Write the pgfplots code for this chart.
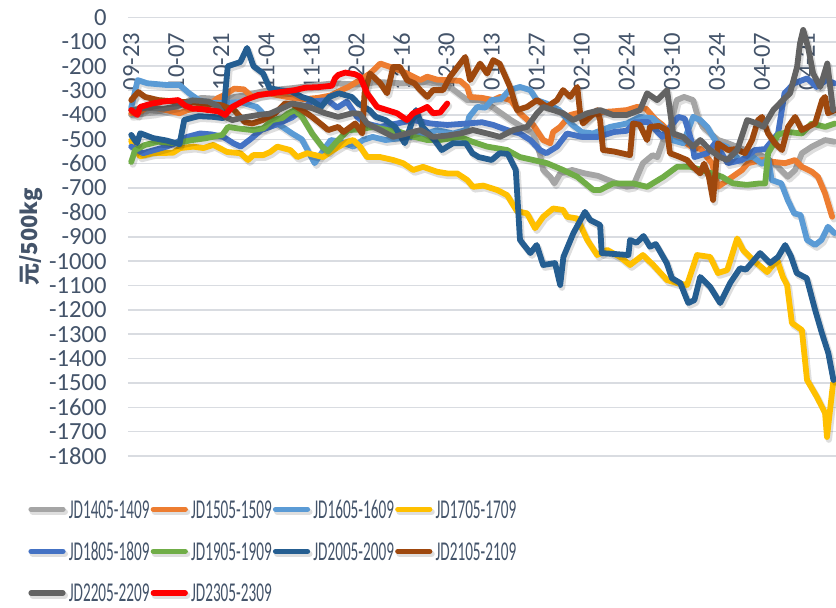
\documentclass[border=0pt]{standalone}
\usepackage{fontspec}
\setmainfont{Carlito}
\newfontfamily\legfont[FakeStretch=0.56]{Carlito}
\newfontfamily\cjk{Noto Sans CJK SC}
\usepackage{pgfplots}
\pgfplotsset{compat=1.18}
\definecolor{tc}{HTML}{44546A}
\definecolor{gridc}{HTML}{D9DCE1}
\definecolor{c14}{HTML}{A5A5A5}
\definecolor{c15}{HTML}{ED7D31}
\definecolor{c16}{HTML}{5B9BD5}
\definecolor{c17}{HTML}{FFC000}
\definecolor{c18}{HTML}{4472C4}
\definecolor{c19}{HTML}{70AD47}
\definecolor{c20}{HTML}{255E91}
\definecolor{c21}{HTML}{9E480E}
\definecolor{c22}{HTML}{636363}
\definecolor{c23}{HTML}{FF0000}
\pgfplotsset{ser/.style={#1, line width=2.9pt, line join=round, line cap=round, mark=none,
    preaction={draw=black, opacity=0.13, line width=3.2pt, transform canvas={xshift=0.9pt,yshift=-1.3pt}}}}
\begin{document}
\begin{tikzpicture}
\useasboundingbox (0,0) rectangle (418pt,303.5pt);
\begin{axis}[
  at={(64pt,75.5pt)}, anchor=south west,
  scale only axis, width=354pt, height=219.25pt,
  xmin=-1, xmax=219, ymin=-1800, ymax=0,
  xtick={0,14,...,210},
  xticklabels={09-23,10-07,10-21,11-04,11-18,12-02,12-16,12-30,01-13,01-27,02-10,02-24,03-10,03-24,04-07,04-21},
  xticklabel pos=upper,
  xticklabel style={yshift=-7.5pt, rotate=90, anchor=east, inner sep=0pt, font=\fontsize{12.3}{14}\selectfont, text=tc},
  ytick={-1800,-1700,...,0},
  yticklabel={\pgfmathparse{int(round(\tick))}\pgfmathresult},
  yticklabel style={anchor=east, inner sep=0pt, xshift=-10.5pt, font=\fontsize{12.3}{14}\selectfont, text=tc},
  ymajorgrids, grid style={gridc, line width=0.75pt},
  axis line style={draw=none},
  major tick length=0pt,
  ylabel={\cjk\bfseries 元/500kg},
  ylabel style={at={([xshift=-48.5pt]axis description cs:0,0.5)}, anchor=center, font=\fontsize{11}{13}\selectfont, text=tc},
  legend image code/.code={\draw[#1, line width=2.6pt, line cap=round] (0.8pt,0pt) -- (16.8pt,0pt);},
  legend columns=4,
  legend style={at={(axis description cs:-0.1412,-0.2166)}, anchor=west, draw=none, fill=none, inner sep=0pt,
    row sep=11.8pt, font=\legfont\fontsize{13.6}{14}\selectfont, text=tc,
    nodes={inner xsep=0.6pt, inner ysep=0pt, text depth=0pt},
    /tikz/every even column/.append style={column sep=0pt},
    /tikz/every odd column/.append style={column sep=1pt}},
  legend cell align=left,
]
% JD1405-1409
\addplot[ser=c14] coordinates {(0,-400)(7,-390)(14,-370)(18,-340)(22,-330)(28,-335)(35,-320)(42,-300)(50,-290)(56,-280)(63,-270)(70,-275)(77,-265)(84,-270)(91,-265)(98,-275)(104.4,-339)(108.4,-339)(112.5,-370)(118,-421)(124.9,-476)(127,-560)(128,-626)(130.2,-654)(131.5,-681)(133.3,-640)(137,-626)(141,-640)(145,-650)(149.7,-675)(154,-695)(156,-690)(159,-598)(162,-565)(163.5,-573)(165.4,-503)(167.5,-449)(169.5,-339)(171.8,-326)(174.6,-339)(176.1,-408)(177.6,-449)(182.4,-503)(185.4,-516)(190,-540)(195,-560)(200,-600)(204,-654)(206.3,-626)(208.4,-557)(211.5,-530)(215.6,-503)(218.5,-510)};
\addlegendentry{JD1405-1409}
% JD1505-1509
\addplot[ser=c15] coordinates {(0,-393)(3,-385)(5,-367)(8,-372)(11,-380)(15,-393)(17.5,-380)(21,-370)(24,-360)(27,-330)(29,-318)(32,-292)(35,-295)(37.6,-326)(40,-318)(42.6,-311)(46,-320)(50,-330)(54,-335)(58,-330)(62,-320)(65,-300)(67.5,-285)(71,-257)(74.2,-230)(77.4,-189)(80.5,-203)(83,-215)(85.7,-230)(89.8,-257)(92,-243)(95,-255)(98.2,-257)(102.2,-260)(104.4,-285)(105.3,-326)(109,-330)(112.5,-339)(114.6,-326)(118,-340)(120.8,-393)(124.9,-441)(128,-503)(130.2,-516)(131.1,-470)(133.3,-449)(136.4,-400)(138.6,-393)(141,-420)(143,-400)(146.3,-388)(150,-385)(154,-380)(157.2,-367)(160,-375)(163,-420)(165,-440)(168,-480)(171,-500)(174,-530)(177,-540)(180.5,-600)(182.3,-695)(185.4,-667)(189.8,-626)(191.6,-598)(196,-585)(199.1,-592)(203.2,-598)(206.3,-585)(208.4,-613)(211.5,-633)(213.4,-654)(215.6,-722)(217.8,-818)};
\addlegendentry{JD1505-1509}
% JD1605-1609
\addplot[ser=c16] coordinates {(0,-370)(2,-257)(5,-270)(11,-277)(15,-277)(18,-311)(21,-339)(25,-350)(29,-351)(34,-347)(39,-367)(42,-408)(47,-449)(50,-476)(53,-500)(57,-598)(60,-540)(62,-503)(65,-510)(69,-530)(72,-503)(75,-490)(79,-503)(84,-495)(90,-485)(95,-462)(100,-476)(104,-462)(105,-408)(107.5,-367)(110,-370)(112,-339)(115,-335)(117.5,-298)(120.8,-285)(124,-298)(126,-339)(129,-353)(133,-380)(137,-440)(140,-470)(143.5,-476)(148.8,-449)(154,-435)(158,-408)(162,-413)(165,-449)(168,-503)(171.5,-516)(174.6,-408)(176.8,-421)(179,-449)(182,-516)(185,-530)(189,-585)(193,-570)(196,-600)(198,-580)(199,-667)(202,-681)(204,-749)(206,-804)(208,-811)(210,-913)(212.5,-934)(214.5,-913)(216.5,-859)(218.5,-885)};
\addlegendentry{JD1605-1609}
% JD1705-1709
\addplot[ser=c17] coordinates {(0,-505)(0.6,-530)(2.8,-570)(6.8,-557)(13,-555)(15.2,-536)(19.3,-530)(22.4,-536)(25.5,-523)(29.8,-552)(33.9,-557)(36.3,-585)(37.9,-565)(41,-565)(43.2,-552)(45.4,-530)(49.4,-544)(51.6,-573)(54.7,-557)(59.6,-573)(62.8,-544)(67.1,-510)(69,-503)(71.1,-530)(73.3,-573)(77.4,-573)(81.4,-585)(84.5,-598)(87.6,-626)(90.7,-613)(95,-633)(98.2,-640)(101.3,-640)(104.4,-667)(106.2,-695)(109.4,-690)(113.7,-708)(116.8,-729)(119.9,-795)(123,-804)(125.5,-865)(128,-818)(131.1,-784)(134.2,-790)(135.4,-818)(138.6,-825)(141.7,-913)(144.8,-975)(147.9,-954)(151.9,-983)(155,-1016)(159,-975)(162.2,-1016)(166.5,-1078)(169.6,-1090)(172.7,-1098)(175.8,-975)(179.9,-983)(182.3,-1049)(185.2,-1037)(188.3,-907)(190.1,-954)(193.2,-995)(197.6,-1045)(200.7,-995)(202.5,-1065)(203.8,-1098)(205.3,-1254)(208.4,-1283)(210,-1488)(213.1,-1558)(215.6,-1624)(216.2,-1722)(218.1,-1500)};
\addlegendentry{JD1705-1709}
% JD1805-1809
\addplot[ser=c18] coordinates {(0,-530)(3.7,-557)(11,-530)(13,-520)(17.4,-490)(21.4,-476)(25,-480)(28.6,-490)(31.7,-516)(34,-530)(37,-500)(40.4,-462)(45,-440)(50,-410)(53,-380)(56,-345)(61,-339)(64,-370)(67,-345)(70.2,-408)(73,-435)(77.4,-449)(82.6,-435)(87.6,-421)(93,-435)(98.2,-441)(104.4,-435)(109,-430)(112.5,-441)(116.8,-462)(120.8,-476)(124,-503)(127,-544)(129,-557)(132.3,-530)(135.4,-476)(140,-490)(145,-490)(150,-470)(154,-465)(156.5,-430)(160.6,-429)(165,-490)(170,-408)(172,-415)(174.3,-516)(175,-573)(179,-557)(181.4,-516)(185.4,-598)(189.8,-585)(193.8,-544)(197,-540)(201,-476)(203,-311)(206,-270)(210,-250)(213,-285)(216,-257)(218.5,-270)};
\addlegendentry{JD1805-1809}
% JD1905-1909
\addplot[ser=c19] coordinates {(0,-593)(1.2,-544)(4.3,-523)(8.4,-510)(13.7,-516)(19,-503)(23,-496)(28.3,-482)(30.1,-449)(33,-455)(37.6,-462)(41,-455)(43.8,-421)(46.9,-413)(48.8,-393)(50.9,-380)(53.1,-408)(56.2,-476)(59.3,-530)(61.2,-550)(64.3,-503)(67.4,-462)(70.5,-460)(75.2,-449)(79.5,-462)(83.6,-470)(88,-490)(92,-503)(96,-503)(102.2,-490)(106,-510)(110.6,-530)(116.8,-544)(120.8,-573)(124.9,-585)(129.2,-598)(134.2,-626)(138.6,-654)(143.6,-708)(145.7,-708)(149.7,-681)(156,-681)(160.3,-695)(165.4,-654)(169.6,-613)(173.7,-613)(177,-625)(183.6,-654)(187,-681)(191.3,-687)(195.4,-681)(197,-681)(197.9,-557)(199.1,-530)(201,-480)(204.1,-470)(208.4,-476)(211.5,-435)(215.6,-449)(218.7,-435)};
\addlegendentry{JD1905-1909}
% JD2005-2009
\addplot[ser=c20] coordinates {(0,-482)(1.8,-516)(2.8,-475)(6.8,-495)(11,-505)(15,-520)(16.5,-420)(21,-405)(25.5,-408)(28.5,-413)(30,-200)(33.9,-183)(36,-125)(38,-200)(41,-230)(43,-290)(46,-298)(50,-305)(53,-326)(56,-339)(59,-367)(61.5,-326)(64.5,-311)(68.5,-326)(70.5,-353)(74,-380)(76,-408)(79,-421)(82,-449)(85,-516)(88.5,-380)(90.5,-449)(93.5,-490)(96.5,-544)(100,-516)(104,-516)(106,-557)(108,-573)(112,-585)(114.5,-557)(117,-560)(119.5,-626)(120.8,-913)(124,-967)(126,-934)(128,-1016)(131.7,-1008)(133.3,-1098)(134.3,-983)(137.4,-885)(141,-798)(142.6,-831)(145.7,-852)(146.2,-967)(154.5,-975)(155,-913)(157,-925)(159.2,-897)(161.2,-941)(163,-930)(166.4,-1008)(168,-1070)(170.6,-1090)(173.1,-1172)(175,-1160)(176.8,-1065)(179.9,-1106)(183,-1172)(186.1,-1090)(189.2,-1029)(191,-1035)(195.4,-967)(198.5,-1008)(201,-983)(203.2,-934)(205,-980)(206.8,-1049)(209.9,-1070)(212.5,-1200)(214.6,-1295)(216.6,-1377)(218.2,-1488)};
\addlegendentry{JD2005-2009}
% JD2105-2109
\addplot[ser=c21] coordinates {(0,-339)(2.2,-306)(4.3,-326)(8.4,-339)(13.7,-345)(21.4,-350)(28,-360)(32,-380)(35.4,-430)(37.6,-435)(41,-420)(44.7,-393)(47.8,-353)(50,-355)(53.1,-380)(56.2,-408)(59.3,-441)(61.2,-462)(64.3,-449)(66,-470)(69.6,-435)(71.8,-476)(72.5,-311)(74.2,-230)(77.4,-270)(79.5,-311)(81.4,-203)(83.5,-203)(85.7,-257)(88,-270)(89.8,-298)(92,-326)(93.8,-298)(96.9,-298)(99.1,-243)(102.2,-189)(103.8,-162)(105.3,-257)(108.4,-189)(110.6,-230)(112.5,-175)(114.5,-190)(117.7,-285)(119.9,-380)(123,-367)(126.1,-339)(129.2,-367)(132.3,-339)(134.2,-298)(136.4,-326)(138.6,-285)(139.5,-393)(140.4,-435)(142.6,-408)(144.8,-380)(145.7,-421)(146.6,-544)(150,-550)(155,-565)(155.9,-435)(158,-440)(160.3,-503)(161.2,-449)(164,-445)(166.5,-462)(167.4,-557)(170,-570)(172.7,-585)(174.6,-613)(176.8,-640)(178,-600)(179.5,-654)(180.8,-749)(182.3,-516)(185.4,-544)(188,-540)(190.7,-557)(192.9,-503)(194.8,-421)(196,-408)(197.9,-476)(200,-516)(202.2,-544)(204.1,-449)(206.3,-408)(208.4,-462)(210.3,-449)(212.5,-435)(214.7,-339)(215.6,-326)(216.5,-393)(218.7,-380)};
\addlegendentry{JD2105-2109}
% JD2205-2209
\addplot[ser=c22] coordinates {(0,-380)(5,-370)(10,-375)(14,-365)(19,-340)(24,-345)(27,-365)(29.2,-408)(31.4,-421)(35,-410)(39.5,-400)(43,-395)(47.8,-367)(50,-353)(53,-360)(56.2,-372)(60.3,-393)(64.3,-408)(68.7,-393)(71,-395)(73.3,-435)(77.4,-462)(81.4,-490)(85.7,-476)(89.8,-462)(93.8,-490)(98,-485)(102.2,-476)(106.2,-462)(110.6,-476)(114.6,-490)(118.7,-462)(123,-449)(126.1,-393)(128,-367)(131.1,-380)(134.2,-393)(137.3,-421)(141.7,-393)(145.7,-380)(149.7,-400)(154,-400)(158.1,-380)(160.3,-311)(163.4,-339)(166.5,-298)(168.4,-476)(171.5,-490)(174.6,-530)(176.8,-503)(179.9,-544)(183,-573)(185.2,-585)(188.3,-544)(191.4,-421)(194.5,-435)(196.4,-449)(199.5,-380)(202.5,-339)(204.7,-311)(206.9,-203)(207.8,-107)(208.8,-51)(210.3,-121)(211.9,-230)(214.1,-285)(216.3,-189)(218.1,-380)};
\addlegendentry{JD2205-2209}
% JD2305-2309
\addplot[ser=c23] coordinates {(0,-380)(1.9,-400)(2.8,-367)(6.5,-353)(10,-345)(14.6,-339)(16.8,-362)(19,-374)(22,-376)(23.9,-380)(27,-385)(29.2,-400)(31.4,-367)(35.4,-339)(39.5,-318)(43.8,-311)(47,-305)(50.9,-298)(54.1,-288)(58,-286)(62.4,-280)(63.3,-250)(64.3,-236)(66.5,-226)(69.6,-233)(71.1,-243)(73.3,-311)(76.4,-367)(79.5,-380)(82.6,-393)(85.7,-421)(87.6,-393)(90,-380)(92,-367)(93.8,-393)(96,-390)(98.2,-353)};
\addlegendentry{JD2305-2309}
\end{axis}
\end{tikzpicture}
\end{document}
